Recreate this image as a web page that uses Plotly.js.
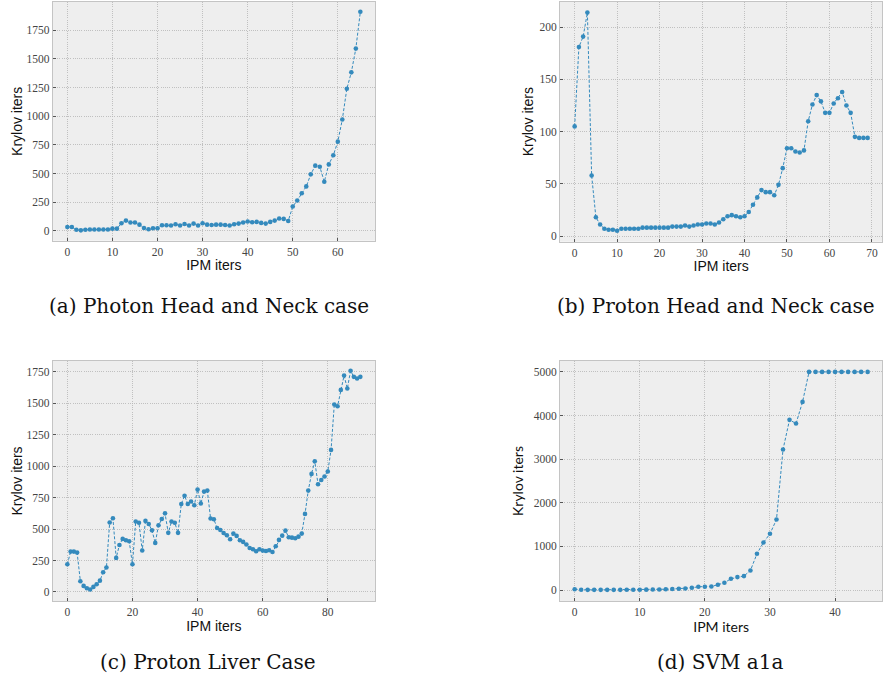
<!DOCTYPE html>
<html>
<head>
<meta charset="utf-8">
<script src="https://cdn.plot.ly/plotly-3.0.1.min.js"></script>
<style>html,body{margin:0;padding:0;background:#fff;}#chart{width:888px;height:681px;}</style>
</head>
<body>
<div id="chart"></div>
<script>
// (a) Photon Head and Neck case
const photonHN = [35,35,10,5,10,12,12,12,12,12,20,20,67,90,73,73,55,26,15,23,23,50,50,47,58,47,61,47,64,47,67,55,52,55,55,52,47,58,64,73,82,76,79,70,64,79,90,108,105,87,213,265,329,388,493,569,560,429,580,659,778,971,1239,1382,1589,1910];
// (b) Proton Head and Neck case
const protonHN = [105,181,191,214,58,18,11,7,6,6,5,7,7,7,7,7,8,8,8,8,8,8,8,9,9,9,10,9,10,11,11,12,12,11,13,16,19,20,19,18,19,23,30,37,44,42,42,39,49,65,84,84,81,80,82,110,126,135,129,118,118,127,132,138,125,118,95,94,94,94];
// (c) Proton Liver Case
const protonLiver = [220,321,321,313,85,48,29,19,40,61,90,157,194,552,586,271,374,422,411,403,220,560,550,330,565,540,490,390,530,580,625,470,560,550,470,700,765,700,720,690,815,703,798,806,584,578,509,493,469,451,419,464,446,411,398,377,350,340,324,340,329,326,332,318,363,414,448,488,435,432,427,440,464,621,806,939,1040,857,891,918,958,1130,1491,1477,1607,1721,1618,1759,1711,1698,1711];
// (d) SVM a1a
const svmA1a = [20,8,6,5,5,6,6,6,7,8,9,10,12,15,20,25,30,35,53,76,76,84,122,168,260,298,321,450,832,1092,1290,1618,3221,3901,3817,4313,5000,5000,5000,5000,5000,5000,5000,5000,5000,5000];

const captions = ["(a) Photon Head and Neck case","(b) Proton Head and Neck case","(c) Proton Liver Case","(d) SVM a1a"];
const xTitle = "IPM iters";
const yTitle = "Krylov iters";

const series = [photonHN, protonHN, protonLiver, svmA1a];
const idx = s => s.map((_, i) => i);

const blue = '#348ABD';
const traces = series.map((s, k) => ({
  x: idx(s), y: s, type: 'scatter', mode: 'lines+markers',
  xaxis: k === 0 ? 'x' : 'x' + (k + 1), yaxis: k === 0 ? 'y' : 'y' + (k + 1),
  line: {color: blue, width: 1, dash: '3px,1.8px'},
  marker: {color: blue, size: 4.6},
  showlegend: false, hoverinfo: 'x+y'
}));

const tickFont = {family: 'Liberation Serif, DejaVu Serif, serif', size: 11.5, color: '#444'};
const common = {tick0: 0, showgrid: true, gridcolor: '#b4b4b4', griddash: '1px,1.2px', gridwidth: 0.8,
  zeroline: false, showline: true, mirror: true, linecolor: '#c4c4c4', linewidth: 1,
  ticks: 'inside', ticklen: 3, tickwidth: 1, tickcolor: '#555', tickfont: tickFont};
function xa(domain, range, dtick, fam, stand, anchor) {
  return Object.assign({}, common, {domain, range, dtick, anchor,
    title: {text: xTitle, font: {family: fam, size: 14, color: '#111'}, standoff: stand}});
}
function ya(domain, range, dtick, fam, stand, anchor) {
  return Object.assign({}, common, {domain, range, dtick, anchor,
    title: {text: yTitle, font: {family: fam, size: 14, color: '#111'}, standoff: stand}});
}
const sans = 'Liberation Sans, Arial, sans-serif';
const cmsans = 'Lato, DejaVu Sans, sans-serif';
const W = 888, H = 681;
const dxL = [52.7 / W, 375 / W], dxR = [560 / W, 882.3 / W];
const dyT = [1 - 240.7 / H, 1 - 2 / H], dyTb = [1 - 241.7 / H, 1 - 1.7 / H], dyB = [1 - 601 / H, 1 - 361 / H];

const capFont = {family: 'DejaVu Serif, Liberation Serif, serif', size: 20, color: '#111'};
const layout = {
  width: W, height: H, margin: {l: 0, r: 0, t: 0, b: 0},
  paper_bgcolor: '#ffffff', plot_bgcolor: '#eeeeee',
  xaxis: xa(dxL, [-3.25, 68.25], 10, sans, 2, 'y'),
  yaxis: ya(dyT, [-85, 1995], 250, sans, 0, 'x'),
  xaxis2: xa(dxR, [-3.45, 72.45], 10, sans, 2, 'y2'),
  yaxis2: ya(dyTb, [-5.45, 224.45], 50, sans, 2, 'x2'),
  xaxis3: xa(dxL, [-4.5, 94.5], 20, sans, 0, 'y3'),
  yaxis3: ya(dyB, [-72, 1837], 250, sans, 0, 'x3'),
  xaxis4: xa(dxR, [-2.25, 47.25], 10, cmsans, 2, 'y4'),
  yaxis4: ya(dyB, [-250, 5250], 1000, cmsans, 6, 'x4'),
  annotations: [
    {text: captions[0], x: 209 / W, y: 1 - 306 / H},
    {text: captions[1], x: 716 / W, y: 1 - 306 / H},
    {text: captions[2], x: 208 / W, y: 1 - 662 / H},
    {text: captions[3], x: 720 / W, y: 1 - 662 / H}
  ].map(a => Object.assign(a, {xref: 'paper', yref: 'paper', showarrow: false, xanchor: 'center', yanchor: 'middle',
    font: capFont}))
};

Plotly.newPlot('chart', traces, layout, {displayModeBar: false, staticPlot: true});
</script>
</body>
</html>
